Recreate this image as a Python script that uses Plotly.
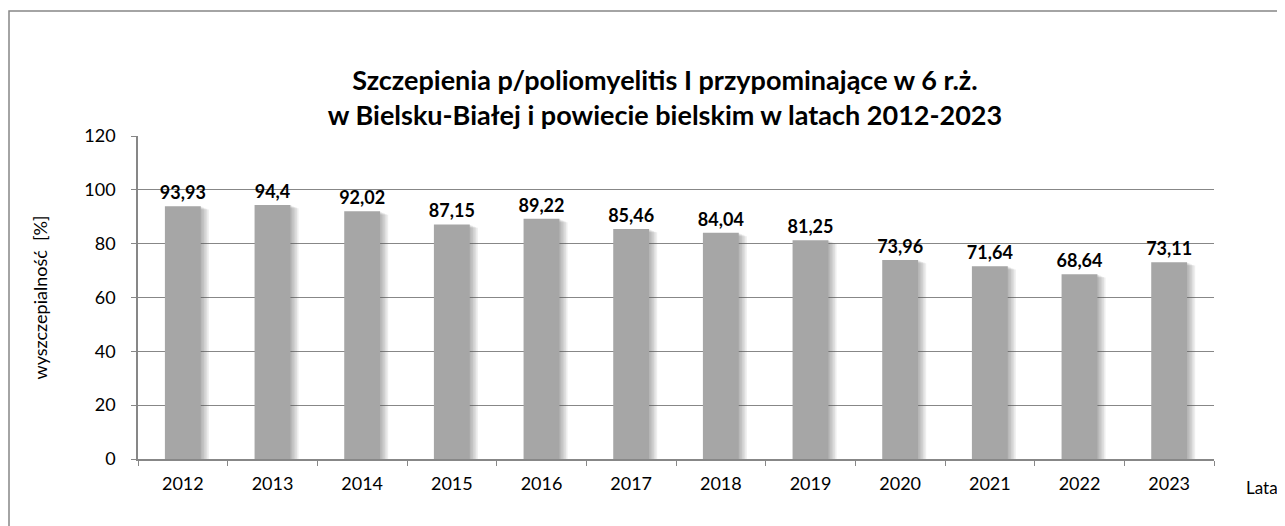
import plotly.graph_objects as go

years = ["2012", "2013", "2014", "2015", "2016", "2017", "2018", "2019", "2020", "2021", "2022", "2023"]
values = [93.93, 94.4, 92.02, 87.15, 89.22, 85.46, 84.04, 81.25, 73.96, 71.64, 68.64, 73.11]
labels = ["93,93", "94,4", "92,02", "87,15", "89,22", "85,46", "84,04", "81,25", "73,96", "71,64", "68,64", "73,11"]
y_ticks = [0, 20, 40, 60, 80, 100, 120]

FONT = "Lato"
W, H = 1277, 518
L, R, T, B = 130, 71, 128, 67
PW, PH = W - L - R, H - T - B

fig = go.Figure()

# soft shadow layers
for k in range(1, 6):
    fig.add_trace(go.Bar(
        x=years, y=[v - 0.25 * k for v in values], width=0.4, offset=-0.2 + 0.018 * k,
        marker=dict(color="rgba(90,90,90,0.10)", line=dict(width=0)),
        hoverinfo="skip", showlegend=False))

fig.add_trace(go.Bar(
    x=years, y=values, width=0.4, offset=-0.2,
    marker=dict(color="#A6A6A6", line=dict(width=0)),
    text=labels, textposition="outside", cliponaxis=False, constraintext="none",
    textfont=dict(family=FONT, size=18, color="#000000", weight="bold"),
    showlegend=False))

fig.update_layout(
    width=W, height=H,
    margin=dict(l=L, r=R, t=T, b=B),
    paper_bgcolor="white", plot_bgcolor="white",
    barmode="overlay",
    font=dict(family=FONT, size=18, color="#000000"),
    title=dict(
        text="Szczepienia p/poliomyelitis I przypominające w 6 r.ż.<br>w Bielsku-Białej i powiecie bielskim w latach 2012-2023",
        x=657 / W, xanchor="center", y=1 - 81.5 / H, yanchor="middle",
        font=dict(family=FONT, size=27, color="#000000", weight="bold")),
    xaxis=dict(
        type="category", tickson="boundaries", ticks="outside", ticklen=5,
        tickcolor="#878787", showline=True, linecolor="#878787", linewidth=1.5,
        showgrid=False, tickfont=dict(size=18), ticklabelstandoff=8),
    yaxis=dict(
        range=[0, 120], tickvals=y_ticks, ticks="outside", ticklen=5,
        tickcolor="#878787", showline=True, linecolor="#878787", linewidth=1.5,
        gridcolor="#878787", gridwidth=1, zeroline=False,
        tickfont=dict(size=18), ticklabelstandoff=12,
        title=dict(text="wyszczepialność  [%]", font=dict(size=18), standoff=32)),
    shapes=[dict(type="rect", xref="paper", yref="paper",
                 x0=(1 - L) / PW, x1=1.2, y0=-0.5, y1=(T + PH - 3) / PH,
                 line=dict(color="#878787", width=1.5), fillcolor="rgba(0,0,0,0)", layer="below")],
    annotations=[dict(text="Lata", xref="paper", yref="paper", x=(1236 - L) / PW, xanchor="left",
                      y=-(479 - 451) / PH, yanchor="middle", showarrow=False,
                      font=dict(family=FONT, size=17, color="#000000"))],
)

fig.write_html("out.html")
